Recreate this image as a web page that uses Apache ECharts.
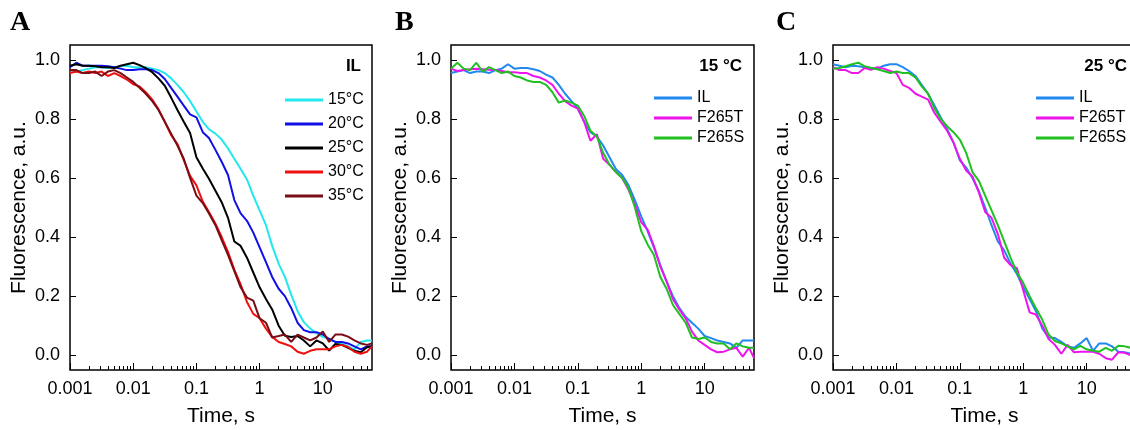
<!DOCTYPE html>
<html>
<head>
<meta charset="utf-8">
<title>Fluorescence decay</title>
<script src="https://cdn.jsdelivr.net/npm/echarts@6/dist/echarts.min.js"></script>
<style>
    html, body { margin: 0; padding: 0; background: #fff; }
    #main { width: 1130px; height: 430px; }
</style>
</head>
<body>
<div id="main"></div>
<script>
'use strict';
// 时间点 (s)
var time = [0.001, 0.00126, 0.00158, 0.002, 0.00251, 0.00316, 0.00398, 0.00501, 0.00631, 0.00794,
    0.01, 0.0126, 0.0158, 0.02, 0.0251, 0.0316, 0.0398, 0.0501, 0.0631, 0.0794,
    0.1, 0.126, 0.158, 0.2, 0.251, 0.316, 0.398, 0.501, 0.631, 0.794,
    1, 1.26, 1.58, 2, 2.51, 3.16, 3.98, 5.01, 6.31, 7.94,
    10, 12.6, 15.8, 20, 25.1, 31.6, 39.8, 50.1, 60];

// A: IL at different temperatures
var tempNames = ['15°C', '20°C', '25°C', '30°C', '35°C'];
var il15 = [0.956, 0.96, 0.965, 0.97, 0.975, 0.975, 0.972, 0.975, 0.978, 0.98,
    0.975, 0.975, 0.975, 0.97, 0.965, 0.955, 0.937, 0.915, 0.89, 0.86,
    0.825, 0.79, 0.765, 0.75, 0.73, 0.7, 0.665, 0.63, 0.595, 0.54,
    0.49, 0.44, 0.37, 0.31, 0.265, 0.205, 0.15, 0.112, 0.09, 0.075,
    0.062, 0.055, 0.045, 0.038, 0.03, 0.02, 0.045, 0.05, 0.05];
var il20 = [0.975, 0.99, 0.98, 0.98, 0.98, 0.98, 0.978, 0.975, 0.97, 0.965,
    0.965, 0.968, 0.968, 0.965, 0.955, 0.935, 0.905, 0.875, 0.845, 0.815,
    0.805, 0.755, 0.735, 0.695, 0.655, 0.61, 0.525, 0.48, 0.455, 0.415,
    0.365, 0.315, 0.265, 0.225, 0.2, 0.16, 0.11, 0.085, 0.078, 0.078,
    0.07, 0.055, 0.045, 0.045, 0.04, 0.03, 0.02, 0.03, 0.03];
var il25 = [0.98, 0.985, 0.98, 0.98, 0.978, 0.975, 0.975, 0.972, 0.98, 0.985,
    0.99, 0.982, 0.972, 0.958, 0.937, 0.912, 0.872, 0.83, 0.79, 0.752,
    0.67, 0.632, 0.597, 0.557, 0.518, 0.465, 0.385, 0.37, 0.33, 0.28,
    0.23, 0.19, 0.155, 0.1, 0.066, 0.062, 0.065, 0.05, 0.03, 0.05,
    0.04, 0.016, 0.038, 0.035, 0.025, 0.015, 0.01, 0.027, 0.03];
var il30 = [0.955, 0.96, 0.955, 0.96, 0.955, 0.96, 0.945, 0.955, 0.945, 0.933,
    0.917, 0.91, 0.89, 0.865, 0.833, 0.79, 0.745, 0.715, 0.66, 0.607,
    0.575, 0.52, 0.485, 0.445, 0.4, 0.35, 0.29, 0.24, 0.18, 0.14,
    0.125, 0.09, 0.062, 0.045, 0.038, 0.03, 0.012, 0.005, 0.015, 0.02,
    0.02, 0.02, 0.03, 0.035, 0.028, 0.012, 0.005, 0.012, 0.03];
var il35 = [0.965, 0.965, 0.955, 0.955, 0.96, 0.945, 0.96, 0.965, 0.955, 0.94,
    0.925, 0.905, 0.885, 0.86, 0.83, 0.79, 0.75, 0.71, 0.665, 0.6,
    0.54, 0.515, 0.48, 0.44, 0.39, 0.34, 0.285, 0.23, 0.195, 0.185,
    0.125, 0.11, 0.06, 0.065, 0.07, 0.045, 0.07, 0.06, 0.05, 0.06,
    0.08, 0.045, 0.07, 0.07, 0.063, 0.05, 0.04, 0.035, 0.04];

// B / C: mutants
var mutNames = ['IL', 'F265T', 'F265S'];
var b_il = [0.955, 0.96, 0.965, 0.955, 0.96, 0.96, 0.955, 0.965, 0.97, 0.985,
    0.97, 0.972, 0.972, 0.968, 0.962, 0.95, 0.94, 0.915, 0.885, 0.86,
    0.835, 0.79, 0.755, 0.74, 0.71, 0.67, 0.63, 0.61, 0.575, 0.525,
    0.47, 0.42, 0.365, 0.305, 0.25, 0.2, 0.16, 0.13, 0.11, 0.09,
    0.065, 0.058, 0.05, 0.045, 0.04, 0.025, 0.05, 0.05, 0.05];
var b_t = [0.97, 0.962, 0.965, 0.968, 0.97, 0.968, 0.966, 0.965, 0.962, 0.958,
    0.958, 0.955, 0.955, 0.945, 0.94, 0.93, 0.915, 0.885, 0.86, 0.845,
    0.835, 0.79, 0.726, 0.748, 0.665, 0.645, 0.62, 0.6, 0.56, 0.51,
    0.45, 0.425, 0.37, 0.3, 0.25, 0.19, 0.155, 0.125, 0.08, 0.05,
    0.035, 0.02, 0.01, 0.012, 0.02, 0.025, -0.005, 0.025, -0.01];
var b_s = [0.97, 0.99, 0.97, 0.965, 0.99, 0.96, 0.975, 0.965, 0.955, 0.96,
    0.945, 0.94, 0.93, 0.925, 0.925, 0.915, 0.89, 0.855, 0.862, 0.855,
    0.845, 0.81, 0.76, 0.74, 0.685, 0.645, 0.62, 0.6, 0.565, 0.5,
    0.42, 0.375, 0.34, 0.265, 0.225, 0.17, 0.14, 0.11, 0.06, 0.055,
    0.06, 0.045, 0.04, 0.04, 0.02, 0.04, 0.03, 0.025, 0.025];
var c_il = [0.985, 0.98, 0.975, 0.98, 0.978, 0.975, 0.972, 0.97, 0.98, 0.985,
    0.985, 0.975, 0.962, 0.945, 0.915, 0.885, 0.845, 0.805, 0.765, 0.72,
    0.66, 0.635, 0.6, 0.555, 0.5, 0.44, 0.385, 0.355, 0.31, 0.275,
    0.23, 0.19, 0.15, 0.09, 0.06, 0.058, 0.045, 0.03, 0.025, 0.04,
    0.058, 0.015, 0.04, 0.04, 0.03, 0.012, 0.01, 0.005, 0.005];
var c_t = [0.975, 0.965, 0.965, 0.955, 0.955, 0.972, 0.966, 0.975, 0.97, 0.962,
    0.955, 0.915, 0.905, 0.885, 0.875, 0.865, 0.82, 0.79, 0.76, 0.72,
    0.665, 0.625, 0.605, 0.55, 0.485, 0.465, 0.41, 0.33, 0.305, 0.295,
    0.22, 0.145, 0.138, 0.1, 0.055, 0.035, 0.005, 0.035, 0.01, 0.012,
    0.012, 0.012, 0.005, -0.01, -0.015, 0.01, 0.008, 0.0, 0.0];
var c_s = [0.97, 0.972, 0.978, 0.985, 0.99, 0.978, 0.972, 0.968, 0.962, 0.955,
    0.96, 0.955, 0.955, 0.94, 0.91, 0.885, 0.835, 0.8, 0.775, 0.755,
    0.73, 0.685, 0.62, 0.59, 0.54, 0.49, 0.44, 0.385, 0.33, 0.28,
    0.245, 0.2, 0.16, 0.12, 0.07, 0.048, 0.04, 0.03, 0.02, 0.032,
    0.02, 0.015, 0.012, 0.025, 0.015, 0.032, 0.03, 0.025, 0.02];

// 刻度
var xMajor = [0.001, 0.01, 0.1, 1, 10];
var xMinor = [];
xMajor.forEach(function (d) {
    for (var m = 2; m <= 9; m++) {
        var v = +(d * m).toPrecision(2);
        if (v < 60) xMinor.push(v);
    }
});
var yTicks = [0, 0.2, 0.4, 0.6, 0.8, 1.0];

var tempColors = ['#22e8ee', '#1010e6', '#000000', '#f01010', '#7a0c16'];
var mutColors = ['#2088f0', '#ee14ee', '#20c020'];

var FONT = 'Liberation Sans';
// 三个图的位置
var grids = [
    {left: 70, top: 45, width: 302, height: 325},
    {left: 451, top: 45, width: 303, height: 325},
    {left: 833, top: 45, width: 303, height: 325}
];

function pairs(vals) {
    return time.map(function (t, i) { return [t, vals[i]]; });
}

var xAxis = [], yAxis = [];
grids.forEach(function (g, i) {
    g.show = true;
    g.borderColor = '#000';
    g.borderWidth = 1.5;
    g.containLabel = false;
    g.outerBoundsMode = 'none';
    xAxis.push({
        type: 'log', logBase: 10, gridIndex: i, min: 0.001, max: 60, position: 'bottom',
        name: 'Time, s', nameLocation: 'middle', nameGap: 36,
        nameTextStyle: {fontFamily: FONT, fontSize: 21, color: '#000'},
        axisLine: {show: false, onZero: false},
        axisTick: {inside: true, length: 7, customValues: xMajor, lineStyle: {color: '#000', width: 1}},
        axisLabel: {
            customValues: xMajor, fontFamily: FONT, fontSize: 18, color: '#000', margin: 10,
            formatter: function (v) { return String(+v.toPrecision(3)); }
        },
        splitLine: {show: false}
    });
    xAxis.push({
        type: 'log', logBase: 10, gridIndex: i, min: 0.001, max: 60, position: 'bottom',
        axisLine: {show: false, onZero: false},
        axisTick: {inside: true, length: 4, customValues: xMinor, lineStyle: {color: '#000', width: 1}},
        axisLabel: {show: false},
        splitLine: {show: false}
    });
    yAxis.push({
        type: 'value', gridIndex: i, min: -0.05, max: 1.05,
        name: 'Fluorescence, a.u.', nameLocation: 'middle', nameGap: 40,
        nameTextStyle: {fontFamily: FONT, fontSize: 21, color: '#000'},
        axisLine: {show: false, onZero: false},
        axisTick: {inside: true, length: 6, customValues: yTicks, lineStyle: {color: '#000', width: 1}},
        axisLabel: {
            customValues: yTicks, fontFamily: FONT, fontSize: 18, color: '#000', margin: 10,
            formatter: function (v) { return v.toFixed(1); }
        },
        splitLine: {show: false}
    });
});

function line(name, vals, color, gi) {
    return {
        name: name, type: 'line', xAxisIndex: gi * 2, yAxisIndex: gi,
        data: pairs(vals), symbol: 'none', smooth: false,
        lineStyle: {color: color, width: 2}, itemStyle: {color: color},
        emphasis: {disabled: true}
    };
}

var series = [
    line(tempNames[0], il15, tempColors[0], 0),
    line(tempNames[1], il20, tempColors[1], 0),
    line(tempNames[2], il25, tempColors[2], 0),
    line(tempNames[3], il30, tempColors[3], 0),
    line(tempNames[4], il35, tempColors[4], 0),
    line(mutNames[0], b_il, mutColors[0], 1),
    line(mutNames[1], b_t, mutColors[1], 1),
    line(mutNames[2], b_s, mutColors[2], 1),
    line(mutNames[0], c_il, mutColors[0], 2),
    line(mutNames[1], c_t, mutColors[1], 2),
    line(mutNames[2], c_s, mutColors[2], 2)
];

function legend(names, left, top, gap) {
    return {
        data: names, orient: 'vertical', left: left, top: top, padding: 0,
        icon: 'rect', itemWidth: 38, itemHeight: 3, itemGap: gap,
        selectedMode: false,
        textStyle: {fontFamily: FONT, fontSize: 16, lineHeight: 16, color: '#000'}
    };
}

function label(text, x, y, size, family, align) {
    return {
        type: 'text', x: x, y: y, silent: true,
        style: {
            text: text, fontFamily: family, fontSize: size, fontWeight: 'bold',
            fill: '#000', align: align || 'left', verticalAlign: 'middle'
        }
    };
}

var option = {
    animation: false,
    backgroundColor: '#fff',
    grid: grids,
    xAxis: xAxis,
    yAxis: yAxis,
    legend: [
        legend(tempNames, 285, 92, 8),
        legend(mutNames, 654, 90, 4),
        legend(mutNames, 1036, 90, 4)
    ],
    graphic: [
        label('A', 10, 23, 28, 'Liberation Serif'),
        label('B', 395, 23, 28, 'Liberation Serif'),
        label('C', 776, 23, 28, 'Liberation Serif'),
        label('IL', 361, 66, 17, FONT, 'right'),
        label('15 °C', 742, 66, 17, FONT, 'right'),
        label('25 °C', 1127, 66, 17, FONT, 'right')
    ],
    series: series
};

var chart = echarts.init(document.getElementById('main'), null, {renderer: 'canvas'});
chart.setOption(option);
</script>
</body>
</html>
